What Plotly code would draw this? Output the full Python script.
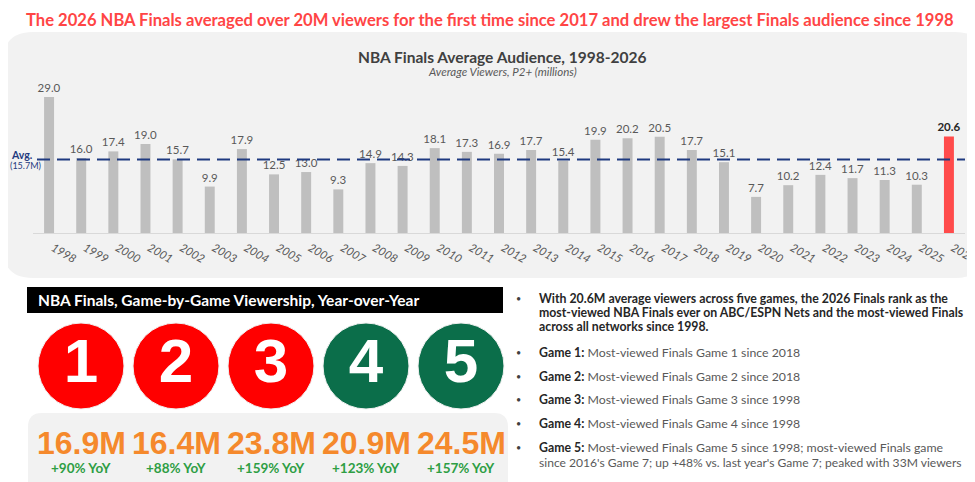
import plotly.graph_objects as go

W, H = 975, 482
OFF = 8  # page offset of the figure inside the browser window

# ---- data ----
years = ["1998", "1999", "2000", "2001", "2002", "2003", "2004", "2005", "2006", "2007",
         "2008", "2009", "2010", "2011", "2012", "2013", "2014", "2015", "2016", "2017",
         "2018", "2019", "2020", "2021", "2022", "2023", "2024", "2025", "2026"]
avg_viewers = [29.0, 16.0, 17.4, 19.0, 15.7, 9.9, 17.9, 12.5, 13.0, 9.3,
               14.9, 14.3, 18.1, 17.3, 16.9, 17.7, 15.4, 19.9, 20.2, 20.5,
               17.7, 15.1, 7.7, 10.2, 12.4, 11.7, 11.3, 10.3, 20.6]
avg_all = 15.7

games = [1, 2, 3, 4, 5]
game_viewers = ["16.9M", "16.4M", "23.8M", "20.9M", "24.5M"]
game_yoy = ["+90% YoY", "+88% YoY", "+159% YoY", "+123% YoY", "+157% YoY"]
game_up_vs_best = [False, False, False, True, True]

summary_lines = [
    "With 20.6M average viewers across five games, the 2026 Finals rank as the",
    "most-viewed NBA Finals ever on ABC/ESPN Nets and the most-viewed Finals",
    "across all networks since 1998.",
]
note_heads = ["Game 1:", "Game 2:", "Game 3:", "Game 4:", "Game 5:"]
note_texts = [
    "Most-viewed Finals Game 1 since 2018",
    "Most-viewed Finals Game 2 since 2018",
    "Most-viewed Finals Game 3 since 1998",
    "Most-viewed Finals Game 4 since 1998",
    "Most-viewed Finals Game 5 since 1998; most-viewed Finals game",
]
note_extra = "since 2016's Game 7; up +48% vs. last year's Game 7; peaked with 33M viewers"

FONT = "Lato"
GRAY = "#595959"


def px(x):
    return (x - OFF) / W


def py(y):
    return 1 - (y - OFF) / H


def round_rect(x0, y0, x1, y1, r):
    # rounded rectangle in pixel coords -> paper path
    pts = [
        ("M", [(x0 + r, y0)]),
        ("L", [(x1 - r, y0)]),
        ("Q", [(x1, y0), (x1, y0 + r)]),
        ("L", [(x1, y1 - r)]),
        ("Q", [(x1, y1), (x1 - r, y1)]),
        ("L", [(x0 + r, y1)]),
        ("Q", [(x0, y1), (x0, y1 - r)]),
        ("L", [(x0, y0 + r)]),
        ("Q", [(x0, y0), (x0 + r, y0)]),
    ]
    path = ""
    for cmd, ps in pts:
        path += cmd + " " + " ".join(f"{px(a):.5f},{py(b):.5f}" for a, b in ps) + " "
    return path + "Z"


def note(x, y, text, size, color, anchor="center", yanchor="middle", **font_kw):
    return dict(x=px(x), y=py(y), xref="paper", yref="paper", showarrow=False,
                xanchor=anchor, yanchor=yanchor, text=text,
                font=dict(family=FONT, size=size, color=color, **font_kw))


fig = go.Figure()

# ---- top bar chart ----
bar_colors = ["#BFBFBF"] * (len(years) - 1) + ["#FF4B4B"]
bar_text = [f"{v:.1f}" for v in avg_viewers[:-1]] + [f"<b>{avg_viewers[-1]:.1f}</b>"]
text_colors = [GRAY] * (len(years) - 1) + ["#262626"]
fig.add_trace(go.Bar(
    x=years, y=avg_viewers, width=0.31,
    marker=dict(color=bar_colors, line_width=0),
    text=bar_text, textposition="outside", cliponaxis=False, constraintext="none",
    textfont=dict(family=FONT, size=11.5, color=text_colors),
    hoverinfo="x+y", showlegend=False,
))

# ---- game circles ----
circle_colors = ["#0B6E4A" if g else "#FF0000" for g in game_up_vs_best]
fig.add_trace(go.Scatter(
    x=games, y=[0.5] * len(games), xaxis="x2", yaxis="y2",
    mode="markers+text", text=[str(g) for g in games], textposition="middle center",
    marker=dict(size=86, color=circle_colors, line=dict(width=1, color="#F0F0F0")),
    textfont=dict(family="Liberation Sans", size=62, color="white", weight="bold"),
    showlegend=False, hoverinfo="skip",
))

shapes = [
    dict(type="path", path=round_rect(3, 32, 985, 278, 30), xref="paper", yref="paper",
         fillcolor="#F2F2F2", line_width=0, layer="below"),
    dict(type="rect", xref="paper", yref="paper", x0=px(27), x1=px(503), y0=py(313), y1=py(287),
         fillcolor="black", line_width=0, layer="below"),
    dict(type="path", path=round_rect(28, 413, 508, 500, 14), xref="paper", yref="paper",
         fillcolor="#F2F2F2", line_width=0, layer="below"),
    dict(type="line", xref="paper", yref="y", x0=px(37), x1=px(965), y0=avg_all, y1=avg_all,
         line=dict(color="#1F3A80", width=2, dash="13px,7px"), layer="above"),
]

ann = [
    note(490, 8, "<b>The 2026 NBA Finals averaged over 20M viewers for the first time since 2017 "
                 "and drew the largest Finals audience since 1998</b>", 16.6, "#FF4545",
         yanchor="top"),
    note(502, 57, "<b>NBA Finals Average Audience, 1998-2026</b>", 15.5, "#404040"),
    note(502, 72, "<i>Average Viewers, P2+ (millions)</i>", 11.5, GRAY),
    note(22, 155, "<b>Avg.</b>", 10.5, "#1F3A80"),
    note(25, 166, f"({avg_all}M)", 9, "#1F3A80"),
    note(36, 300, "<b>NBA Finals, Game-by-Game Viewership, Year-over-Year</b>", 15.5, "white",
         anchor="left"),
]

for g, v, yoy in zip(games, game_viewers, game_yoy):
    ann.append(dict(x=g, y=py(443), xref="x2", yref="paper", showarrow=False, text=v,
                    xanchor="center", yanchor="middle",
                    font=dict(family="Liberation Sans", size=32, color="#F5892C", weight="bold")))
    ann.append(dict(x=g, y=py(468), xref="x2", yref="paper", showarrow=False, text=f"<b>{yoy}</b>",
                    xanchor="center", yanchor="middle",
                    font=dict(family=FONT, size=13.5, color="#2E9E44")))

# bullets
TX = 537
summary_y = [298, 312, 326]
for line, yy in zip(summary_lines, summary_y):
    ann.append(note(TX, yy, f"<b>{line}</b>", 12.3, "#262626", anchor="left"))
bullet_y = [298, 352, 376, 399, 423, 447]
for yy in bullet_y:
    ann.append(note(519, yy, "•", 9, "#404040"))
for head, txt, yy in zip(note_heads, note_texts, bullet_y[1:]):
    ann.append(note(TX, yy, f"<b><span style='color:#262626'>{head}</span></b> {txt}", 12.3, GRAY,
                    anchor="left"))
ann.append(note(TX, 462, note_extra, 12.1, GRAY, anchor="left"))

fig.update_layout(
    width=W, height=H, margin=dict(l=0, r=0, t=0, b=0, autoexpand=False),
    paper_bgcolor="white", plot_bgcolor="rgba(0,0,0,0)",
    shapes=shapes, annotations=ann,
    xaxis=dict(type="category", range=[-0.5, len(years) - 0.5], domain=[px(33), px(965)],
               showline=True, linecolor="#D9D9D9", linewidth=1, showgrid=False, zeroline=False,
               tickangle=30, ticks="", fixedrange=True, automargin=False,
               ticklabelshift=4, ticklabelstandoff=3,
               tickfont=dict(family=FONT, size=11.5, color=GRAY, style="italic")),
    yaxis=dict(range=[0, 31.56], domain=[py(233), py(85)], visible=False, fixedrange=True),
    xaxis2=dict(range=[0.5, 5.5], domain=[px(33.5), px(508.5)], visible=False, fixedrange=True),
    yaxis2=dict(range=[0, 1], domain=[py(410), py(322)], visible=False, fixedrange=True),
)

fig.write_html("out.html")
